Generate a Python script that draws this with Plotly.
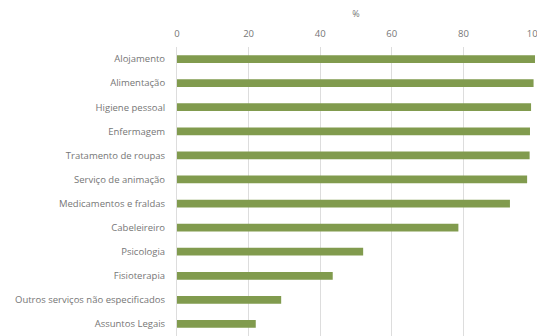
import plotly.graph_objects as go

# Serviços prestados (% de estabelecimentos)
servicos = [
    "Alojamento",
    "Alimentação",
    "Higiene pessoal",
    "Enfermagem",
    "Tratamento de roupas",
    "Serviço de animação",
    "Medicamentos e fraldas",
    "Cabeleireiro",
    "Psicologia",
    "Fisioterapia",
    "Outros serviços não especificados",
    "Assuntos Legais",
]
percentagens = [100, 99.6, 98.9, 98.6, 98.5, 97.8, 93.0, 78.6, 52.0, 43.5, 29.1, 22.0]

eixo_x_ticks = [0, 20, 40, 60, 80, 100]

fig = go.Figure(
    go.Bar(
        x=percentagens,
        y=servicos,
        orientation="h",
        marker=dict(color="#819b4e", line=dict(width=0)),
        width=0.32,
    )
)

fig.update_layout(
    width=537,
    height=336,
    margin=dict(l=177, r=2, t=47, b=0),
    paper_bgcolor="white",
    plot_bgcolor="white",
    showlegend=False,
    font=dict(family="Open Sans", size=9.5, color="#767676"),
)

fig.update_xaxes(
    side="top",
    range=[0, 100],
    tickvals=eixo_x_ticks,
    showgrid=True,
    gridcolor="#dddddd",
    gridwidth=1,
    zeroline=False,
    showline=False,
    ticks="",
    ticklabelstandoff=7,
    ticklabeloverflow="allow",
    automargin=False,
    title=dict(text="%", standoff=7, font=dict(size=9, color="#767676")),
    fixedrange=True,
)

fig.update_yaxes(
    categoryorder="array",
    categoryarray=servicos,
    autorange="reversed",
    showgrid=False,
    zeroline=False,
    showline=True,
    linecolor="#dddddd",
    ticks="",
    ticklabelstandoff=9,
    automargin=False,
    fixedrange=True,
)

fig.write_html("out.html")
